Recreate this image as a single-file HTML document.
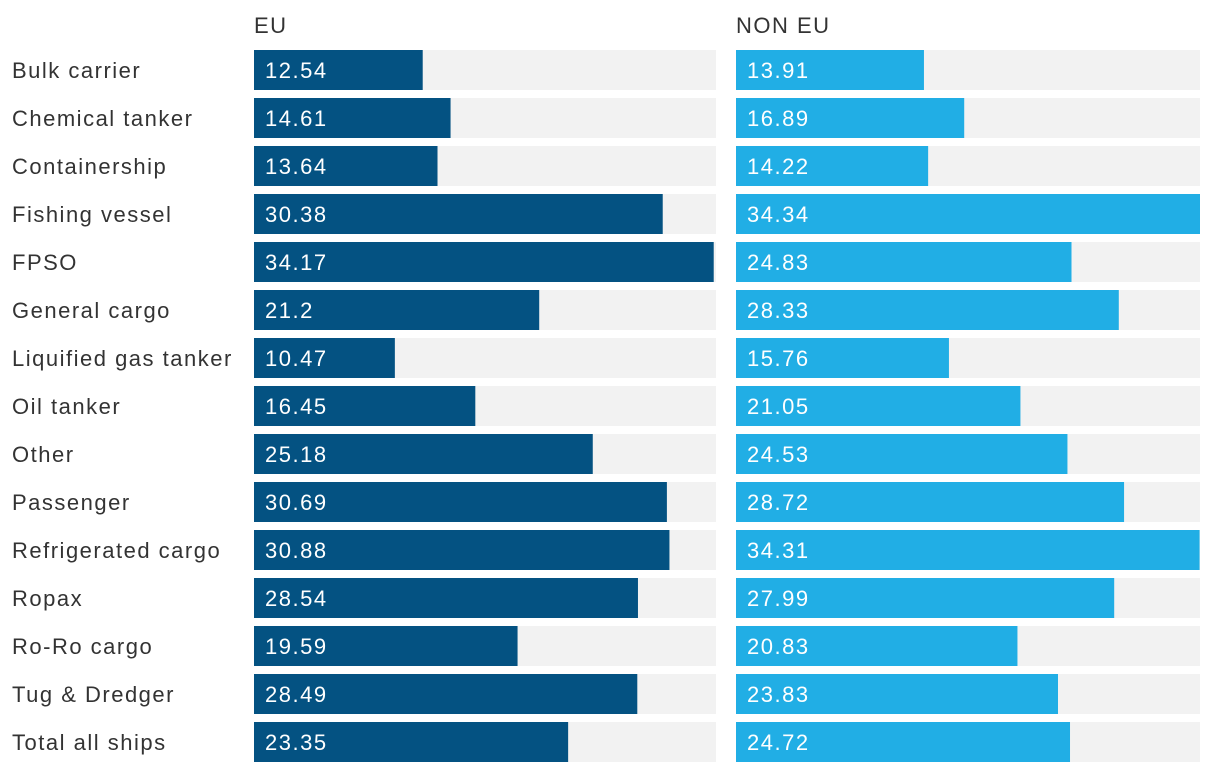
<!DOCTYPE html>
<html><head><meta charset="utf-8"><style>
body{margin:0;background:#fff;width:1220px;height:772px;overflow:hidden;font-family:"Liberation Sans",sans-serif}
svg text{font-family:"Liberation Sans",sans-serif;letter-spacing:1.5px}
</style></head><body>
<svg id="chart" width="1220" height="772"></svg>
<script>
const categories=["Bulk carrier","Chemical tanker","Containership","Fishing vessel","FPSO","General cargo","Liquified gas tanker","Oil tanker","Other","Passenger","Refrigerated cargo","Ropax","Ro-Ro cargo","Tug & Dredger","Total all ships"];
const euValues=[12.54,14.61,13.64,30.38,34.17,21.2,10.47,16.45,25.18,30.69,30.88,28.54,19.59,28.49,23.35];
const nonEuValues=[13.91,16.89,14.22,34.34,24.83,28.33,15.76,21.05,24.53,28.72,34.31,27.99,20.83,23.83,24.72];
const panelTitles=["EU","NON EU"];
const NS="http://www.w3.org/2000/svg";
const svg=document.getElementById('chart');
const maxV=Math.max(...euValues,...nonEuValues);
const rowTop=50,rowPitch=48,barH=40;
const y=i=>rowTop+i*rowPitch;
function mk(tag,attrs,parent){const e=document.createElementNS(NS,tag);for(const k in attrs)e.setAttribute(k,attrs[k]);(parent||svg).appendChild(e);return e;}
categories.forEach((c,i)=>{
  const t=mk('text',{x:12,y:y(i)+barH/2+8,'font-size':22,fill:'#333'});
  t.textContent=c;
  
  
});
const panels=[{x0:254,w:462,vals:euValues,color:'#045282',name:'eu'},{x0:736,w:464,vals:nonEuValues,color:'#21aee5',name:'non-eu'}];
panels.forEach((p,pi)=>{
  const xs=v=>v/maxV*p.w;
  const tt=mk('text',{x:p.x0,y:33,'font-size':22,fill:'#333'});
  tt.textContent=panelTitles[pi];
  
  
  p.vals.forEach((v,i)=>{
    const tr=mk('rect',{x:p.x0,y:y(i),width:p.w,height:barH,fill:'#f2f2f2'});
    
    
    const b=mk('rect',{x:p.x0,y:y(i),width:xs(v),height:barH,fill:p.color});
    
    
    const lt=mk('text',{x:p.x0+11,y:y(i)+barH/2+8,'font-size':22,fill:'#fff'});
    lt.textContent=String(v);
    
    
  });
});
</script>
</body></html>
